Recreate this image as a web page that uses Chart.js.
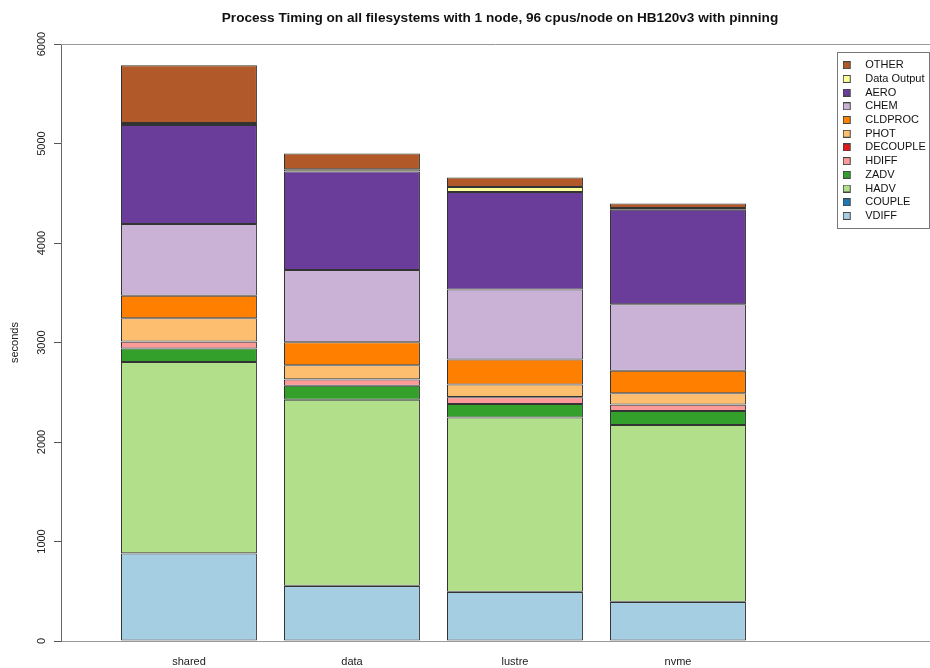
<!DOCTYPE html>
<html>
<head>
<meta charset="utf-8">
<script src="https://cdn.jsdelivr.net/npm/chart.js@4.4.1/dist/chart.umd.min.js"></script>
<style>
  html, body { margin: 0; padding: 0; background: #fff; }
  #wrap { width: 930px; height: 668px; }
</style>
</head>
<body>
<div id="wrap"><canvas id="myChart" width="930" height="668"></canvas></div>
<script>
var filesystems = ['shared', 'data', 'lustre', 'nvme'];

// seconds spent in each phase, one value per filesystem
var vdiff      = [880, 552, 492, 391];
var couple     = [3, 3, 3, 3];
var hadv       = [1920, 1870, 1752, 1776];
var zadv       = [137, 140, 134, 141];
var hdiff      = [67, 64, 70, 64];
var decouple   = [2, 2, 2, 2];
var phot       = [235, 141, 126, 114];
var cldproc    = [227, 231, 250, 225];
var chem       = [720, 726, 703, 668];
var aero       = [996, 990, 980, 950];
var dataOutput = [20, 23, 50, 17];
var other      = [579, 157, 97, 47];

var yTicks = [0, 1000, 2000, 3000, 4000, 5000, 6000];

var phases = [
    ['VDIFF', vdiff, '#A6CEE3'],
    ['COUPLE', couple, '#1F78B4'],
    ['HADV', hadv, '#B2DF8A'],
    ['ZADV', zadv, '#33A02C'],
    ['HDIFF', hdiff, '#FB9A99'],
    ['DECOUPLE', decouple, '#E31A1C'],
    ['PHOT', phot, '#FDBF6F'],
    ['CLDPROC', cldproc, '#FF7F00'],
    ['CHEM', chem, '#CAB2D6'],
    ['AERO', aero, '#6A3D9A'],
    ['Data Output', dataOutput, '#FFFF99'],
    ['OTHER', other, '#B15928']
];

var font = "'Liberation Sans', Arial, Helvetica, sans-serif";

// little square swatch sitting at the left of a wider box, like R's legend
function swatch(color) {
    var c = document.createElement('canvas');
    c.width = 17;
    c.height = 8;
    var g = c.getContext('2d');
    g.fillStyle = color;
    g.fillRect(0, 0, 8, 8);
    g.strokeStyle = '#444';
    g.lineWidth = 1;
    g.strokeRect(0.5, 0.5, 7, 7);
    return c;
}

var datasets = phases.map(function (p) {
    return {
        label: p[0],
        data: p[1].map(function (v, i) { return {x: i, y: v}; }),
        backgroundColor: p[2],
        borderColor: '#333',
        borderWidth: 1,
        borderSkipped: false,
        pointStyle: swatch(p[2])
    };
});

var legendSpot = {
    id: 'legendSpot',
    afterLayout: function (chart) {
        var lg = chart.legend;
        lg.left = 840;
        lg.top = 57;
        lg.right = lg.left + lg.width;
        lg.bottom = lg.top + lg.height;
        // R centres the title on a slightly wider plot region
        chart.titleBlock.left = 70;
    },
    afterDraw: function (chart) {
        var ctx = chart.ctx;
        var a = chart.chartArea;
        ctx.save();
        ctx.lineWidth = 1;
        ctx.strokeStyle = '#999';
        ctx.beginPath();
        ctx.moveTo(a.left, Math.round(a.top) + 0.5);
        ctx.lineTo(a.right, Math.round(a.top) + 0.5);
        ctx.stroke();
        ctx.strokeStyle = '#777';
        ctx.strokeRect(837.5, 52.5, 92, 176);
        ctx.restore();
    }
};

var ctx = document.getElementById('myChart').getContext('2d');
var myChart = new Chart(ctx, {
    type: 'bar',
    data: { datasets: datasets },
    options: {
        responsive: false,
        animation: false,
        devicePixelRatio: 1,
        barPercentage: 0.834,
        categoryPercentage: 1,
        layout: { padding: 0 },
        scales: {
            x: {
                type: 'linear',
                stacked: true,
                offset: false,
                min: -0.785,
                max: 4.546,
                afterFit: function (s) { s.height = 27; },
                grid: { display: false, drawTicks: false },
                border: { display: true, color: '#999', width: 1 },
                ticks: {
                    stepSize: 1,
                    includeBounds: false,
                    padding: 14,
                    color: '#222',
                    font: { family: font, size: 11 },
                    callback: function (v) { return filesystems[v] || ''; }
                }
            },
            y: {
                stacked: true,
                min: 0,
                max: 6000,
                afterFit: function (s) { s.width = 61; },
                afterBuildTicks: function (s) {
                    s.ticks = yTicks.map(function (v) { return {value: v}; });
                },
                grid: { display: true, drawOnChartArea: false, drawTicks: true, tickLength: 7, color: '#555' },
                border: { display: true, color: '#666', width: 1 },
                title: {
                    display: true,
                    text: 'seconds',
                    color: '#222',
                    font: { family: font, size: 11 },
                    padding: { top: 8, bottom: 0 }
                },
                ticks: {
                    minRotation: 90,
                    maxRotation: 90,
                    crossAlign: 'center',
                    padding: 0,
                    color: '#222',
                    font: { family: font, size: 11 },
                    callback: function (v) { return String(v); }
                }
            }
        },
        plugins: {
            title: {
                display: true,
                fullSize: false,
                text: 'Process Timing on all filesystems with 1 node, 96 cpus/node on HB120v3 with pinning',
                color: '#111',
                font: { family: font, size: 13.6, weight: 'bold' },
                padding: { top: 10, bottom: 17.7 }
            },
            legend: {
                position: 'chartArea',
                align: 'start',
                reverse: true,
                labels: {
                    usePointStyle: true,
                    pointStyleWidth: 17,
                    boxHeight: 8,
                    padding: 2.7,
                    color: '#111',
                    font: { family: font, size: 11 }
                }
            },
            tooltip: { enabled: false }
        }
    },
    plugins: [legendSpot]
});
</script>
</body>
</html>
